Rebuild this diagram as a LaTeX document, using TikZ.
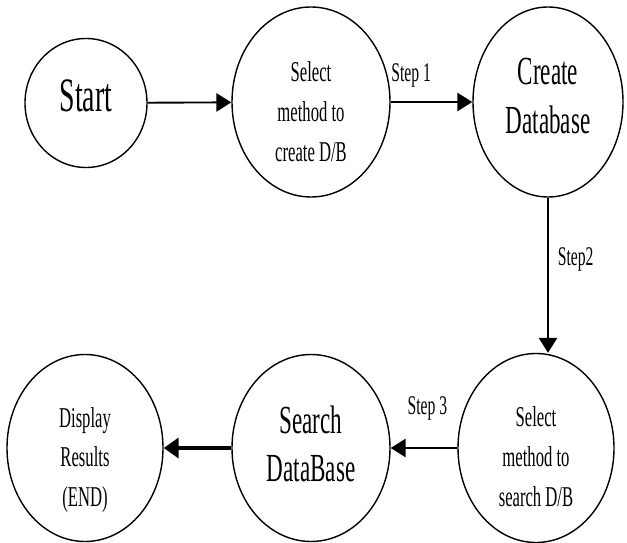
\documentclass[tikz,border=0pt]{standalone}
\usepackage{fontspec}
\setmainfont{Liberation Serif}[FakeStretch=0.58]
\usepackage{tikz}
\usetikzlibrary{shapes.geometric,arrows.meta,positioning,calc}
\newcommand{\hugetxt}{\fontsize{41}{48}\selectfont}
\newcommand{\bigtxt}{\fontsize{34}{41}\selectfont}
\newcommand{\midtxt}{\fontsize{24.5}{34}\selectfont}
\newcommand{\steptxt}{\fontsize{23}{26}\selectfont}
\tikzset{
  state/.style={draw, ellipse, line width=1.2pt, inner sep=0pt},
  statetext/.style={align=center, inner sep=0pt},
  flow/.style={line width=1.6pt, -{Triangle[length=0.45cm, width=0.55cm]}},
  bigflow/.style={line width=4pt, -{Triangle[length=0.45cm, width=0.6cm]}}
}

\begin{document}
\begin{tikzpicture}[x=0.03cm, y=-0.03cm]
  \useasboundingbox (0,0) rectangle (627,543);
  % top row
  \node[state, minimum width=3.66cm, minimum height=3.87cm] (start) at (86,103) {};
  \node[statetext, font=\hugetxt] (starttxt) at (86,96) {Start};
  \node[state, minimum width=4.74cm, minimum height=5.7cm] (selc) at (311,102) {};
  \node[statetext, font=\midtxt] (selctxt) at (311,112) {Select\\method to\\create D/B};
  \node[state, minimum width=4.5cm, minimum height=5.7cm] (create) at (548,102) {};
  \node[statetext, font=\bigtxt] (createtxt) at (548,96) {Create\\Database};

  % bottom row
  \node[state, minimum width=4.68cm, minimum height=5.67cm] (sels) at (536,448) {};
  \node[statetext, font=\midtxt] (selstxt) at (536,457) {Select\\method to\\search D/B};
  \node[state, minimum width=4.74cm, minimum height=5.61cm] (search) at (311,448) {};
  \node[statetext, font=\bigtxt] (searchtxt) at (311,444) {Search\\DataBase};
  \node[state, minimum width=4.68cm, minimum height=5.61cm] (disp) at (85,448) {};
  \node[statetext, font=\midtxt] (disptxt) at (85,460) {Display\\Results\\(END)};

  \draw[flow] (start) -- (selc);
  \draw[flow] (selc) -- node[pos=0.25, above=0.3cm, font=\steptxt] (s1) {Step 1} (create);
  \draw[flow] (create.south) -- node[pos=0.4, right=0.15cm, font=\steptxt] (s2) {Step2} (create.south |- sels.north);
  \draw[flow] (sels) -- node[pos=0.45, above=0.7cm, font=\steptxt] (s3) {Step 3} (search);
  \draw[bigflow] (search) -- (disp);
\end{tikzpicture}
\end{document}
